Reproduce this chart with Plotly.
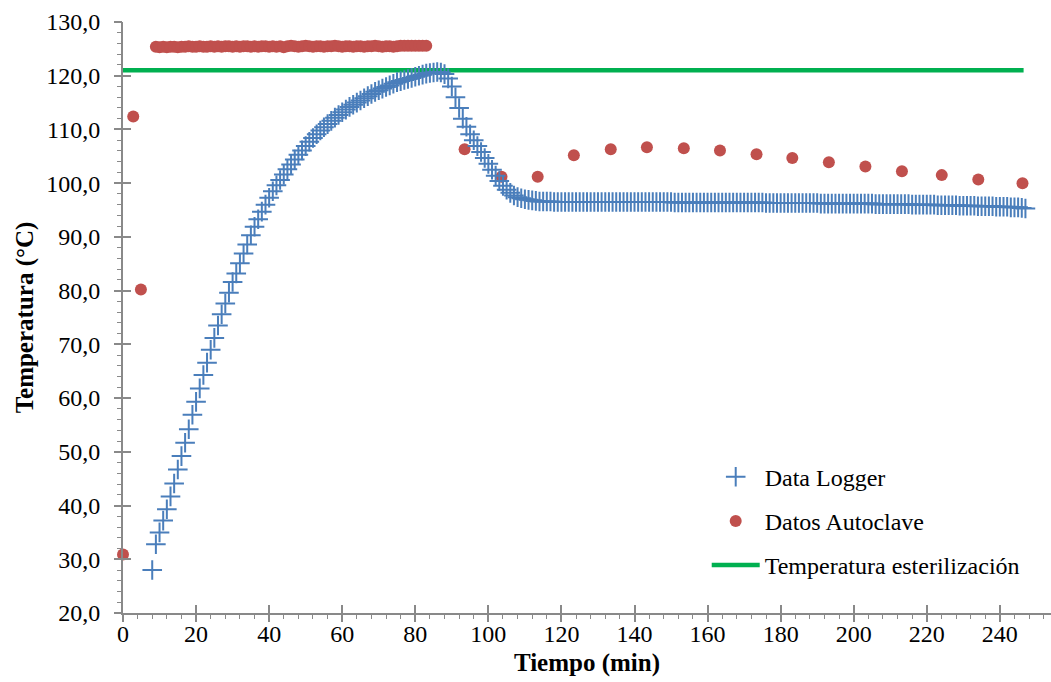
import plotly.graph_objects as go

# ---------------- data ----------------
logger_time = list(range(8, 248))
logger_temp = [
    28.0, 32.8, 35.0, 37.2, 39.3, 41.7, 44.1, 46.7, 49.2, 51.7,
    54.2, 56.9, 59.3, 61.8, 64.3, 66.6, 69.0, 71.2, 73.5, 75.6,
    77.6, 79.6, 81.6, 83.2, 85.1, 86.9, 88.6, 90.3, 91.9, 93.3,
    94.7, 96.0, 97.3, 98.5, 99.6, 100.6, 101.6, 102.6, 103.5, 104.4,
    105.3, 106.1, 106.9, 107.7, 108.4, 109.1, 109.8, 110.4, 111.0, 111.6,
    112.2, 112.7, 113.2, 113.7, 114.2, 114.6, 115.0, 115.4, 115.8, 116.2,
    116.6, 117.0, 117.3, 117.6, 117.9, 118.2, 118.5, 118.8, 119.0, 119.2,
    119.4, 119.6, 119.8, 120.0, 120.2, 120.4, 120.5, 120.6, 120.7, 120.6,
    120.3, 119.5, 118.0, 116.0, 114.0, 112.0, 110.5, 109.1, 108.0, 106.9,
    105.8, 104.7, 103.6, 102.5, 101.4, 100.4, 99.5, 98.8, 98.2, 97.7,
    97.4, 97.2, 97.0, 96.9, 96.8, 96.7, 96.6, 96.6, 96.6, 96.6,
    96.5, 96.5, 96.5, 96.5, 96.5, 96.5, 96.5, 96.5, 96.5, 96.5,
    96.5, 96.5, 96.5, 96.5, 96.5, 96.5, 96.5, 96.5, 96.5, 96.5,
    96.5, 96.5, 96.5, 96.5, 96.5, 96.5, 96.5, 96.5, 96.5, 96.5,
    96.5, 96.5, 96.5, 96.4, 96.4, 96.4, 96.4, 96.4, 96.4, 96.4,
    96.4, 96.4, 96.4, 96.4, 96.4, 96.4, 96.4, 96.4, 96.4, 96.4,
    96.4, 96.4, 96.4, 96.4, 96.4, 96.4, 96.4, 96.4, 96.3, 96.3,
    96.3, 96.3, 96.3, 96.3, 96.3, 96.3, 96.3, 96.3, 96.3, 96.3,
    96.3, 96.3, 96.3, 96.2, 96.2, 96.2, 96.2, 96.2, 96.2, 96.2,
    96.2, 96.2, 96.2, 96.2, 96.2, 96.2, 96.2, 96.2, 96.1, 96.1,
    96.1, 96.1, 96.1, 96.1, 96.1, 96.1, 96.1, 96.1, 96.0, 96.0,
    96.0, 96.0, 96.0, 96.0, 96.0, 95.9, 95.9, 95.9, 95.9, 95.9,
    95.9, 95.8, 95.8, 95.8, 95.8, 95.8, 95.7, 95.7, 95.7, 95.7,
    95.7, 95.6, 95.6, 95.6, 95.6, 95.5, 95.5, 95.5, 95.4, 95.3,
]

# start-up readings of the autoclave
autoclave_start_time = [0, 2.8, 4.9]
autoclave_start_temp = [30.9, 112.4, 80.2]
# holding phase (one reading per minute, 9..83 min)
autoclave_hold_time = list(range(9, 84))
autoclave_hold_temp = [
    125.4, 125.3, 125.4, 125.3, 125.4, 125.4, 125.3, 125.4, 125.4, 125.5,
    125.4, 125.4, 125.5, 125.4, 125.4, 125.5, 125.4, 125.5, 125.4, 125.5,
    125.5, 125.4, 125.5, 125.4, 125.5, 125.5, 125.4, 125.5, 125.4, 125.5,
    125.5, 125.4, 125.5, 125.4, 125.5, 125.3, 125.5, 125.6, 125.5, 125.4,
    125.5, 125.6, 125.5, 125.4, 125.5, 125.5, 125.4, 125.5, 125.5, 125.6,
    125.5, 125.4, 125.5, 125.5, 125.4, 125.5, 125.5, 125.4, 125.5, 125.5,
    125.6, 125.5, 125.4, 125.5, 125.5, 125.4, 125.5, 125.6, 125.6, 125.6,
    125.6, 125.6, 125.6, 125.6, 125.6,
]
# cooling phase
autoclave_cool_time = [93.5, 103.6, 113.5, 123.4, 133.5, 143.4, 153.5, 163.4,
                       173.4, 183.2, 193.2, 203.2, 213.2, 224.1, 234.1, 246.2]
autoclave_cool_temp = [106.3, 101.2, 101.2, 105.2, 106.3, 106.7, 106.5, 106.1,
                       105.4, 104.7, 103.9, 103.1, 102.2, 101.5, 100.7, 100.0]

autoclave_time = autoclave_start_time + autoclave_hold_time + autoclave_cool_time
autoclave_temp = autoclave_start_temp + autoclave_hold_temp + autoclave_cool_temp

steril_time = [0, 246.5]
steril_temp = [121.0, 121.0]

x_ticks = [0, 20, 40, 60, 80, 100, 120, 140, 160, 180, 200, 220, 240]
y_ticks = [20, 30, 40, 50, 60, 70, 80, 90, 100, 110, 120, 130]

# ---------------- figure ----------------
FONT = "Liberation Serif, Times New Roman, serif"
AXC = "#898989"
XR = [0, 254]
YR = [20, 130]

fig = go.Figure()

fig.add_trace(go.Scatter(
    x=steril_time, y=steril_temp, mode="lines", name="Temperatura esterilización",
    legendgroup="c", legendrank=3,
    line=dict(color="#00b050", width=4.5), cliponaxis=False,
))
fig.add_trace(go.Scatter(
    x=autoclave_time, y=autoclave_temp, mode="markers", name="Datos Autoclave",
    legendgroup="b", legendrank=2,
    marker=dict(symbol="circle", size=12, color="#c0504d"),
    cliponaxis=False,
))
fig.add_trace(go.Scatter(
    x=logger_time, y=logger_temp, mode="markers", name="Data Logger",
    legendgroup="a", legendrank=1,
    marker=dict(symbol="cross-thin", size=14, color="#4a7ebb",
                line=dict(color="#4a7ebb", width=2)),
    cliponaxis=False,
))

# invisible traces on overlay axes (tick halves)
for xa, ya in (("x2", "y2"), ("x3", "y3")):
    fig.add_trace(go.Scatter(x=[None], y=[None], xaxis=xa, yaxis=ya,
                             showlegend=False, hoverinfo="skip"))

fig.update_layout(
    width=1051, height=682,
    margin=dict(l=123, r=0, t=22, b=69),
    paper_bgcolor="white", plot_bgcolor="white",
    separators=",.",
    font=dict(family=FONT, size=24, color="black"),
    showlegend=True,
    legend=dict(
        x=0.629, y=0.268, xanchor="left", yanchor="top",
        traceorder="grouped",
        font=dict(family=FONT, size=24, color="black"),
        bgcolor="rgba(0,0,0,0)", itemwidth=48, tracegroupgap=10,
    ),
    # main axes: line + labels
    xaxis=dict(
        range=XR, tickvals=x_ticks, ticktext=[str(v) for v in x_ticks],
        showgrid=False, zeroline=False,
        showline=True, linecolor=AXC, linewidth=2,
        ticks="", ticklabelstandoff=-2,
        tickfont=dict(family=FONT, size=24),
        title=dict(text="<b>Tiempo (min)</b>", font=dict(family=FONT, size=25), standoff=8),
    ),
    yaxis=dict(
        range=YR, tickvals=y_ticks, ticktext=[f"{v},0" for v in y_ticks],
        showgrid=False, zeroline=False,
        showline=True, linecolor=AXC, linewidth=2,
        ticks="", ticklabelstandoff=16,
        tickfont=dict(family=FONT, size=24),
        title=dict(text="<b>Temperatura (°C)</b>", font=dict(family=FONT, size=25), standoff=5),
    ),
    # inside half of the major ticks
    xaxis2=dict(
        range=XR, overlaying="x", anchor="y2", side="bottom",
        tickvals=x_ticks, showticklabels=False, showgrid=False, zeroline=False,
        ticks="inside", ticklen=8, tickwidth=1.5, tickcolor=AXC, showline=False,
    ),
    yaxis2=dict(
        range=YR, overlaying="y", anchor="x2", side="left",
        tickvals=y_ticks, showticklabels=False, showgrid=False, zeroline=False,
        ticks="inside", ticklen=8, tickwidth=1.5, tickcolor=AXC, showline=False,
    ),
    # outside half of the major ticks + minor ticks
    xaxis3=dict(
        range=XR, overlaying="x", anchor="y3", side="bottom",
        tickvals=x_ticks, showticklabels=False, showgrid=False, zeroline=False,
        ticks="outside", ticklen=8, tickwidth=1.5, tickcolor=AXC, showline=False,
        minor=dict(dtick=4, ticks="outside", ticklen=5, tickwidth=1.2, tickcolor=AXC),
    ),
    yaxis3=dict(
        range=YR, overlaying="y", anchor="x3", side="left",
        tickvals=y_ticks, showticklabels=False, showgrid=False, zeroline=False,
        ticks="outside", ticklen=8, tickwidth=1.5, tickcolor=AXC, showline=False,
        minor=dict(dtick=2, ticks="outside", ticklen=5, tickwidth=1.2, tickcolor=AXC),
    ),
)

fig.write_html("out.html")
